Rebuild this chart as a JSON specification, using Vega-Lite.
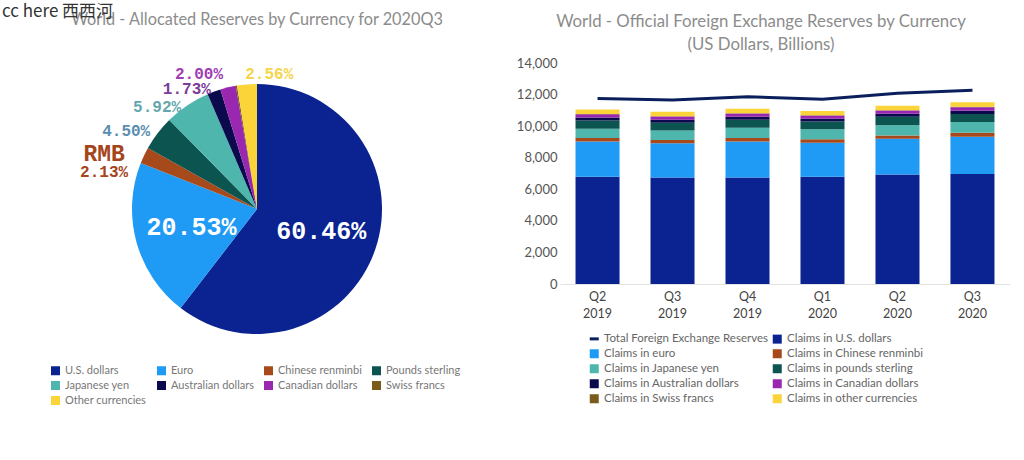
{
  "$schema": "https://vega.github.io/schema/vega-lite/v6.json",
  "background": "white",
  "padding": {"left": 2, "top": 3, "right": 0, "bottom": 0},
  "config": {"view": {"stroke": null}},
  "title": {"text": "cc here 西西河", "anchor": "start", "frame": "bounds", "font": "Noto Sans CJK SC", "fontSize": 17, "fontWeight": "normal", "color": "#333333", "dx": -45, "dy": 9.5, "offset": 0},
  "datasets": {
    "pie": [
      {"cur": "U.S. dollars", "pct": 60.46},
      {"cur": "Euro", "pct": 20.53},
      {"cur": "Chinese renminbi", "pct": 2.13},
      {"cur": "Pounds sterling", "pct": 4.50},
      {"cur": "Japanese yen", "pct": 5.92},
      {"cur": "Australian dollars", "pct": 1.73},
      {"cur": "Canadian dollars", "pct": 2.00},
      {"cur": "Swiss francs", "pct": 0.17},
      {"cur": "Other currencies", "pct": 2.56}
    ],
    "bars": [
      {"q": "Q2 2019", "series": "Total Foreign Exchange Reserves", "v": 11750},
      {"q": "Q3 2019", "series": "Total Foreign Exchange Reserves", "v": 11650},
      {"q": "Q4 2019", "series": "Total Foreign Exchange Reserves", "v": 11860},
      {"q": "Q1 2020", "series": "Total Foreign Exchange Reserves", "v": 11710},
      {"q": "Q2 2020", "series": "Total Foreign Exchange Reserves", "v": 12090},
      {"q": "Q3 2020", "series": "Total Foreign Exchange Reserves", "v": 12280},
      {"q": "Q2 2019", "series": "Claims in U.S. dollars", "v": 6790},
      {"q": "Q3 2019", "series": "Claims in U.S. dollars", "v": 6750},
      {"q": "Q4 2019", "series": "Claims in U.S. dollars", "v": 6750},
      {"q": "Q1 2020", "series": "Claims in U.S. dollars", "v": 6790},
      {"q": "Q2 2020", "series": "Claims in U.S. dollars", "v": 6930},
      {"q": "Q3 2020", "series": "Claims in U.S. dollars", "v": 6965},
      {"q": "Q2 2019", "series": "Claims in euro", "v": 2240},
      {"q": "Q3 2019", "series": "Claims in euro", "v": 2170},
      {"q": "Q4 2019", "series": "Claims in euro", "v": 2280},
      {"q": "Q1 2020", "series": "Claims in euro", "v": 2160},
      {"q": "Q2 2020", "series": "Claims in euro", "v": 2270},
      {"q": "Q3 2020", "series": "Claims in euro", "v": 2365},
      {"q": "Q2 2019", "series": "Claims in Chinese renminbi", "v": 215},
      {"q": "Q3 2019", "series": "Claims in Chinese renminbi", "v": 210},
      {"q": "Q4 2019", "series": "Claims in Chinese renminbi", "v": 215},
      {"q": "Q1 2020", "series": "Claims in Chinese renminbi", "v": 220},
      {"q": "Q2 2020", "series": "Claims in Chinese renminbi", "v": 210},
      {"q": "Q3 2020", "series": "Claims in Chinese renminbi", "v": 245},
      {"q": "Q2 2019", "series": "Claims in Japanese yen", "v": 595},
      {"q": "Q3 2019", "series": "Claims in Japanese yen", "v": 590},
      {"q": "Q4 2019", "series": "Claims in Japanese yen", "v": 650},
      {"q": "Q1 2020", "series": "Claims in Japanese yen", "v": 630},
      {"q": "Q2 2020", "series": "Claims in Japanese yen", "v": 650},
      {"q": "Q3 2020", "series": "Claims in Japanese yen", "v": 682},
      {"q": "Q2 2019", "series": "Claims in pounds sterling", "v": 510},
      {"q": "Q3 2019", "series": "Claims in pounds sterling", "v": 500},
      {"q": "Q4 2019", "series": "Claims in pounds sterling", "v": 515},
      {"q": "Q1 2020", "series": "Claims in pounds sterling", "v": 500},
      {"q": "Q2 2020", "series": "Claims in pounds sterling", "v": 530},
      {"q": "Q3 2020", "series": "Claims in pounds sterling", "v": 518},
      {"q": "Q2 2019", "series": "Claims in Australian dollars", "v": 190},
      {"q": "Q3 2019", "series": "Claims in Australian dollars", "v": 185},
      {"q": "Q4 2019", "series": "Claims in Australian dollars", "v": 190},
      {"q": "Q1 2020", "series": "Claims in Australian dollars", "v": 170},
      {"q": "Q2 2020", "series": "Claims in Australian dollars", "v": 190},
      {"q": "Q3 2020", "series": "Claims in Australian dollars", "v": 199},
      {"q": "Q2 2019", "series": "Claims in Canadian dollars", "v": 215},
      {"q": "Q3 2019", "series": "Claims in Canadian dollars", "v": 205},
      {"q": "Q4 2019", "series": "Claims in Canadian dollars", "v": 205},
      {"q": "Q1 2020", "series": "Claims in Canadian dollars", "v": 200},
      {"q": "Q2 2020", "series": "Claims in Canadian dollars", "v": 210},
      {"q": "Q3 2020", "series": "Claims in Canadian dollars", "v": 230},
      {"q": "Q2 2019", "series": "Claims in Swiss francs", "v": 16},
      {"q": "Q3 2019", "series": "Claims in Swiss francs", "v": 16},
      {"q": "Q4 2019", "series": "Claims in Swiss francs", "v": 16},
      {"q": "Q1 2020", "series": "Claims in Swiss francs", "v": 16},
      {"q": "Q2 2020", "series": "Claims in Swiss francs", "v": 16},
      {"q": "Q3 2020", "series": "Claims in Swiss francs", "v": 20},
      {"q": "Q2 2019", "series": "Claims in other currencies", "v": 290},
      {"q": "Q3 2019", "series": "Claims in other currencies", "v": 290},
      {"q": "Q4 2019", "series": "Claims in other currencies", "v": 280},
      {"q": "Q1 2020", "series": "Claims in other currencies", "v": 280},
      {"q": "Q2 2020", "series": "Claims in other currencies", "v": 280},
      {"q": "Q3 2020", "series": "Claims in other currencies", "v": 295}
    ]
  },
  "spacing": 49,
  "resolve": {"scale": {"color": "independent"}, "legend": {"color": "independent"}},
  "hconcat": [
    {
      "width": 420,
      "height": 292,
      "title": {"text": "World - Allocated Reserves by Currency for 2020Q3", "font": "Lato", "fontSize": 16.3, "fontWeight": "normal", "color": "#8c8c8c", "anchor": "middle", "frame": "group", "offset": 35},
      "data": {"name": "pie"},
      "transform": [
        {"calculate": "indexof(['U.S. dollars','Euro','Chinese renminbi','Pounds sterling','Japanese yen','Australian dollars','Canadian dollars','Swiss francs','Other currencies'], datum.cur)", "as": "k"},
        {"calculate": "format(datum.pct, '.2f') + '%'", "as": "lbl"},
        {"stack": "pct", "groupby": [], "sort": [{"field": "k", "order": "ascending"}], "as": ["s0", "s1"]},
        {"calculate": "(datum.s0 + datum.s1) / 2", "as": "mid"}
      ],
      "layer": [
        {
          "mark": {"type": "arc", "outerRadius": 125},
          "encoding": {
            "theta": {"field": "s0", "type": "quantitative", "stack": null, "scale": {"domain": [0, 100]}},
            "theta2": {"field": "s1"},
            "color": {
              "field": "cur", "type": "nominal",
              "scale": {
                "domain": ["U.S. dollars", "Euro", "Chinese renminbi", "Pounds sterling", "Japanese yen", "Australian dollars", "Canadian dollars", "Swiss francs", "Other currencies"],
                "range": ["#0a2391", "#1f9bf5", "#a64a1c", "#0c5450", "#4fb6ae", "#0a0a4c", "#9a27b0", "#7a5b1c", "#fbd43a"]
              },
              "legend": {
                "orient": "none", "legendX": 3, "legendY": 302, "direction": "horizontal", "columns": 4, "title": null,
                "symbolType": "square", "symbolSize": 81, "symbolStrokeWidth": 0,
                "labelFont": "Lato", "labelFontSize": 11, "labelColor": "#777777",
                "columnPadding": 9, "rowPadding": 3, "labelOffset": 4
              }
            }
          }
        },
        {
          "transform": [{"filter": "datum.pct > 10"}],
          "mark": {"type": "text", "radius": 68, "font": "Liberation Mono", "fontWeight": "bold", "fontSize": 25, "color": "white"},
          "encoding": {
            "theta": {"field": "mid", "type": "quantitative", "stack": null},
            "text": {"field": "lbl"}
          }
        },
        {
          "transform": [{"filter": "datum.pct < 10 && datum.pct > 1"}],
          "mark": {
            "type": "text", "thetaOffset": -0.14, "font": "Liberation Mono", "fontWeight": "bold", "fontSize": 16,
            "radius": {"expr": "datum.cur === 'Chinese renminbi' ? 156 : datum.cur === 'Pounds sterling' ? 150 : datum.cur === 'Japanese yen' ? 145 : datum.cur === 'Australian dollars' ? 138 : datum.cur === 'Canadian dollars' ? 145 : 136"},
            "dx": {"expr": "datum.cur === 'Other currencies' ? 42 : datum.cur === 'Japanese yen' ? -3 : datum.cur === 'Chinese renminbi' ? -4 : datum.cur === 'Canadian dollars' ? -5 : datum.cur === 'Australian dollars' ? -5 : 0"},
            "dy": {"expr": "datum.cur === 'Chinese renminbi' ? 10 : datum.cur === 'Japanese yen' ? 6 : datum.cur === 'Other currencies' ? -2 : datum.cur === 'Australian dollars' ? 2 : datum.cur === 'Pounds sterling' ? -5 : 0"}
          },
          "encoding": {
            "theta": {"field": "mid", "type": "quantitative", "stack": null},
            "text": {"field": "lbl"},
            "color": {
              "field": "cur", "type": "nominal", "legend": null,
              "scale": {
                "domain": ["U.S. dollars", "Euro", "Chinese renminbi", "Pounds sterling", "Japanese yen", "Australian dollars", "Canadian dollars", "Swiss francs", "Other currencies"],
                "range": ["#ffffff", "#ffffff", "#a4451c", "#5b8db0", "#64a6ad", "#7b3c9a", "#a03cb4", "#7a5b1c", "#f5d547"]
              }
            }
          }
        },
        {
          "transform": [{"filter": "datum.cur === 'Chinese renminbi'"}],
          "mark": {"type": "text", "radius": 156, "thetaOffset": -0.14, "dx": -4, "dy": -8, "font": "Liberation Mono", "fontWeight": "bold", "fontSize": 23, "color": "#a4451c"},
          "encoding": {
            "theta": {"field": "mid", "type": "quantitative", "stack": null},
            "text": {"value": "RMB"}
          }
        }
      ],
      "resolve": {"scale": {"color": "independent"}, "legend": {"color": "independent"}}
    },
    {
      "width": 450,
      "height": 221,
      "title": {"text": ["World - Official Foreign Exchange Reserves by Currency", "(US Dollars, Billions)"], "font": "Lato", "fontSize": 16.8, "lineHeight": 23, "fontWeight": "normal", "color": "#8c8c8c", "anchor": "middle", "frame": "group", "offset": 3, "dx": -24},
      "data": {"name": "bars"},
      "encoding": {
        "x": {
          "field": "q", "type": "nominal", "sort": null,
          "scale": {"paddingInner": 0.413, "paddingOuter": 0.207},
          "axis": {"title": null, "labelAngle": 0, "labelExpr": "split(datum.label, ' ')", "ticks": false, "domainColor": "#e3e3e3", "labelColor": "#444444", "labelFont": "Lato", "labelFontSize": 12.5, "labelPadding": 6, "labelLineHeight": 17}
        },
        "y": {
          "field": "v", "type": "quantitative",
          "scale": {"domain": [0, 14000], "nice": false},
          "axis": {"title": null, "values": [0, 2000, 4000, 6000, 8000, 10000, 12000, 14000], "format": ",.0f", "grid": false, "ticks": false, "domain": false, "labelColor": "#555555", "labelFont": "Lato", "labelFontSize": 13, "labelPadding": 3}
        },
        "color": {
          "field": "series", "type": "nominal",
          "scale": {
            "domain": ["Total Foreign Exchange Reserves", "Claims in U.S. dollars", "Claims in euro", "Claims in Chinese renminbi", "Claims in Japanese yen", "Claims in pounds sterling", "Claims in Australian dollars", "Claims in Canadian dollars", "Claims in Swiss francs", "Claims in other currencies"],
            "range": ["#0b1f5c", "#0a2391", "#1f9bf5", "#a64a1c", "#4fb6ae", "#0c5450", "#0a0a4c", "#9a27b0", "#7a5b1c", "#fbd43a"]
          },
          "legend": {
            "orient": "none", "legendX": 28.5, "legendY": 270, "direction": "horizontal", "columns": 2, "title": null,
            "symbolType": "square", "symbolSize": 81, "labelLimit": 300,
            "labelFont": "Lato", "labelFontSize": 11.5, "labelColor": "#666666",
            "columnPadding": 3, "rowPadding": 2, "labelOffset": 4,
            "encode": {
              "symbols": {
                "update": {
                  "shape": {"signal": "datum.value === 'Total Foreign Exchange Reserves' ? 'stroke' : 'square'"},
                  "stroke": {"signal": "datum.value === 'Total Foreign Exchange Reserves' ? '#0b1f5c' : 'transparent'"},
                  "strokeWidth": {"signal": "datum.value === 'Total Foreign Exchange Reserves' ? 3 : 0"}
                }
              }
            }
          }
        }
      },
      "layer": [
        {
          "transform": [
            {"filter": "datum.series !== 'Total Foreign Exchange Reserves'"},
            {"calculate": "indexof(['Claims in U.S. dollars','Claims in euro','Claims in Chinese renminbi','Claims in Japanese yen','Claims in pounds sterling','Claims in Australian dollars','Claims in Canadian dollars','Claims in Swiss francs','Claims in other currencies'], datum.series)", "as": "k"}
          ],
          "mark": {"type": "bar"},
          "encoding": {"order": {"field": "k", "type": "quantitative"}}
        },
        {
          "transform": [{"filter": "datum.series === 'Total Foreign Exchange Reserves'"}],
          "mark": {"type": "line", "strokeWidth": 3}
        }
      ]
    }
  ]
}
